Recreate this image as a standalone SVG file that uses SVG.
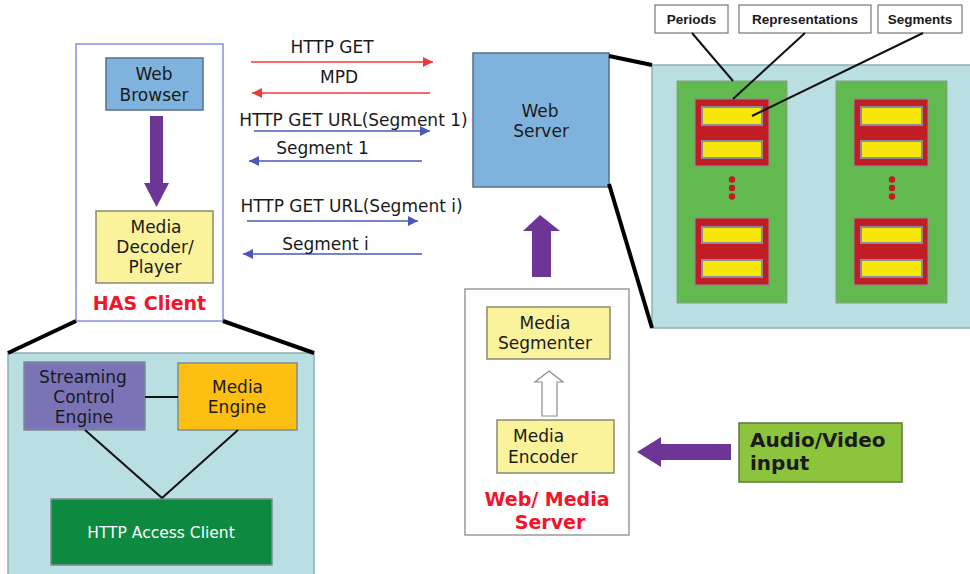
<svg xmlns="http://www.w3.org/2000/svg" width="970" height="574" viewBox="0 0 970 574">
  <style>
    .t { font-family: "DejaVu Sans", Verdana, sans-serif; font-size: 17px; fill: #1a1a1a; }
    .c { text-anchor: middle; }
    .red { font-weight: bold; fill: #f2142a; font-size: 19px; }
    .lbl { font-family: "Liberation Sans", Arial, sans-serif; font-weight: bold; font-size: 13.5px; fill: #1a1a1a; text-anchor: middle; }
    .box { stroke: #7f8a94; stroke-width: 1.5; }
    .yel { fill: #fbf29c; stroke: #8a8a70; stroke-width: 1.5; }
    .blue { fill: #7fb3dd; stroke: #56718c; stroke-width: 1.5; }
    .msgR { stroke: #ec3a3a; stroke-width: 1.5; fill: none; }
    .msgB { stroke: #4a57b8; stroke-width: 1.5; fill: none; }
    .thick { stroke: #000; stroke-width: 4; fill: none; }
    .thin { stroke: #111; stroke-width: 2; fill: none; }
    .purple { fill: #6c3596; }
    .grn { fill: #62b94f; stroke: #8aa08a; stroke-width: 1; }
    .rep { fill: #c01d25; stroke: #8d8aa0; stroke-width: 1; }
    .seg { fill: #f7e60c; stroke: #8d8aa0; stroke-width: 2; }
    .dot { fill: #c01d25; }
  </style>
  <defs>
    <marker id="headR" markerUnits="userSpaceOnUse" markerWidth="12" markerHeight="10" refX="10" refY="5" orient="auto">
      <path d="M0,0 L10,5 L0,10 Z" fill="#ec3a3a"/>
    </marker>
    <marker id="headB" markerUnits="userSpaceOnUse" markerWidth="12" markerHeight="10" refX="10" refY="5" orient="auto">
      <path d="M0,0 L10,5 L0,10 Z" fill="#4a57b8"/>
    </marker>
  </defs>

  <rect width="970" height="574" fill="#ffffff"/>

  <!-- HAS client container -->
  <g id="has-client">
    <rect x="76" y="44" width="147" height="277" fill="#ffffff" stroke="#8a8ee0" stroke-width="1.5"/>
    <text class="t red c" x="149.5" y="310">HAS Client</text>
  </g>

  <g id="web-browser">
    <rect class="blue" x="106" y="58" width="97" height="52"/>
    <text class="t c" x="154" y="80">Web</text>
    <text class="t c" x="154" y="101">Browser</text>
  </g>

  <g id="media-decoder">
    <rect class="yel" x="96" y="211" width="117" height="72"/>
    <text class="t c" x="156" y="233">Media</text>
    <text class="t c" x="155" y="253">Decoder/</text>
    <text class="t c" x="155" y="273">Player</text>
  </g>

  <!-- HAS client internals -->
  <g id="client-detail">
    <rect x="8" y="353" width="306" height="225" fill="#b9dfe2" stroke="#8fb0b4" stroke-width="1.5"/>
  </g>

  <g id="streaming-control-engine">
    <rect class="box" x="24" y="362" width="121" height="68" fill="#7a73b6"/>
    <text class="t c" x="83" y="383">Streaming</text>
    <text class="t c" x="84" y="403">Control</text>
    <text class="t c" x="84" y="423">Engine</text>
  </g>

  <g id="media-engine">
    <rect class="box" x="178" y="363" width="119" height="67" fill="#fdbf12"/>
    <text class="t c" x="237.5" y="393">Media</text>
    <text class="t c" x="237" y="413">Engine</text>
  </g>

  <g id="http-access-client">
    <rect class="box" x="51" y="499" width="221" height="66" fill="#0e8a40"/>
    <text class="t c" x="161" y="538" style="fill:#ffffff;font-size:15.5px">HTTP Access Client</text>
  </g>

  <!-- Web server -->
  <g id="web-server">
    <rect class="blue" x="473" y="53" width="136" height="134"/>
    <text class="t c" x="540" y="117">Web</text>
    <text class="t c" x="541" y="137">Server</text>
  </g>

  <!-- MPD structure -->
  <g id="mpd-structure">
    <rect x="652" y="65" width="325" height="263" fill="#b9dfe2" stroke="#8fb0b4" stroke-width="1.5"/>
    <rect class="grn" x="677" y="81" width="110" height="222"/>
    <rect class="grn" x="836" y="81" width="111" height="222"/>

    <rect class="rep" x="695" y="99" width="74" height="67"/>
    <rect class="seg" x="702" y="107" width="60" height="18"/>
    <rect class="seg" x="702" y="141" width="60" height="17"/>
    <rect class="rep" x="695" y="218" width="74" height="67"/>
    <rect class="seg" x="702" y="227" width="60" height="16"/>
    <rect class="seg" x="702" y="260" width="60" height="17"/>

    <rect class="rep" x="854" y="99" width="74" height="67"/>
    <rect class="seg" x="861" y="107" width="61" height="18"/>
    <rect class="seg" x="861" y="141" width="61" height="17"/>
    <rect class="rep" x="854" y="218" width="74" height="67"/>
    <rect class="seg" x="861" y="227" width="61" height="16"/>
    <rect class="seg" x="861" y="260" width="61" height="17"/>

    <circle class="dot" cx="732" cy="179.5" r="3.2"/>
    <circle class="dot" cx="732" cy="188" r="3.2"/>
    <circle class="dot" cx="732" cy="196.5" r="3.2"/>
    <circle class="dot" cx="892" cy="179.5" r="3.2"/>
    <circle class="dot" cx="892" cy="188" r="3.2"/>
    <circle class="dot" cx="892" cy="196.5" r="3.2"/>
  </g>

  <g id="label-periods">
    <rect x="655" y="5" width="73" height="28" fill="#ffffff" stroke="#777" stroke-width="1.2"/>
    <text class="lbl" x="691.5" y="24">Periods</text>
  </g>
  <g id="label-representations">
    <rect x="739" y="5" width="132" height="28" fill="#ffffff" stroke="#777" stroke-width="1.2"/>
    <text class="lbl" x="805" y="24">Representations</text>
  </g>
  <g id="label-segments">
    <rect x="878" y="5" width="84" height="28" fill="#ffffff" stroke="#777" stroke-width="1.2"/>
    <text class="lbl" x="920" y="24">Segments</text>
  </g>

  <!-- Web/Media server -->
  <g id="web-media-server">
    <rect x="465" y="289" width="164" height="246" fill="#ffffff" stroke="#9a9a9a" stroke-width="1.5"/>
    <text class="t red c" x="547" y="506">Web/ Media</text>
    <text class="t red c" x="550" y="529">Server</text>
  </g>

  <g id="media-segmenter">
    <rect class="yel" x="487" y="307" width="123" height="52"/>
    <text class="t c" x="545" y="329">Media</text>
    <text class="t c" x="545" y="349">Segmenter</text>
  </g>

  <g id="media-encoder">
    <rect class="yel" x="497" y="420" width="117" height="53"/>
    <text class="t" x="513" y="442">Media</text>
    <text class="t" x="508" y="463">Encoder</text>
  </g>

  <g id="av-input">
    <rect x="739" y="423" width="163" height="59" fill="#8cc43e" stroke="#5c7a3a" stroke-width="1.5"/>
    <text class="t" x="750" y="447" style="font-weight:bold;font-size:20px">Audio/Video</text>
    <text class="t" x="750" y="470" style="font-weight:bold;font-size:20px">input</text>
  </g>

  <!-- Connectors -->
  <g id="connectors">
    <!-- request / response messages -->
    <line class="msgR" x1="251" y1="62" x2="433" y2="62" marker-end="url(#headR)"/>
    <text class="t c" x="332" y="53">HTTP GET</text>
    <line class="msgR" x1="430" y1="93" x2="252" y2="93" marker-end="url(#headR)"/>
    <text class="t c" x="339" y="83">MPD</text>
    <line class="msgB" x1="254" y1="131" x2="430" y2="131" marker-end="url(#headB)"/>
    <text class="t c" x="353.5" y="126">HTTP GET URL(Segment 1)</text>
    <line class="msgB" x1="422" y1="161" x2="249" y2="161" marker-end="url(#headB)"/>
    <text class="t c" x="322.5" y="154">Segment 1</text>
    <line class="msgB" x1="247" y1="221" x2="418" y2="221" marker-end="url(#headB)"/>
    <text class="t c" x="351.5" y="212">HTTP GET URL(Segment i)</text>
    <line class="msgB" x1="422" y1="254" x2="243" y2="254" marker-end="url(#headB)"/>
    <text class="t c" x="325.5" y="250">Segment i</text>

    <!-- browser to decoder -->
    <path class="purple" d="M150,116 H163 V183 H169 L156.5,207 L144,183 H150 Z"/>
    <!-- segmenter to web server -->
    <path class="purple" d="M532,277 V231 H523 L540,215 L560,231 H551 V277 Z"/>
    <!-- encoder to segmenter -->
    <path d="M542,416 V382 H535 L549,371 L563,382 H557 V416 Z" fill="#ffffff" stroke="#8a8a8a" stroke-width="1.2"/>
    <!-- audio/video input to encoder -->
    <path class="purple" d="M731,444 H661 V437 L637,452 L661,467 V460 H731 Z"/>

    <!-- zoom-out outlines -->
    <line class="thick" x1="76" y1="321" x2="8" y2="353"/>
    <line class="thick" x1="223" y1="321" x2="314" y2="353"/>
    <line class="thick" x1="609" y1="56" x2="652" y2="65"/>
    <line class="thick" x1="609" y1="184" x2="652" y2="328"/>

    <!-- label pointers -->
    <line class="thin" x1="692" y1="33" x2="733" y2="81"/>
    <line class="thin" x1="805" y1="33" x2="733" y2="99"/>
    <line class="thin" x1="923" y1="33" x2="752" y2="116"/>

    <!-- client component links -->
    <line class="thin" x1="145" y1="397" x2="178" y2="397"/>
    <line class="thin" x1="85" y1="430" x2="162" y2="498"/>
    <line class="thin" x1="238" y1="430" x2="162" y2="498"/>
  </g>
</svg>
